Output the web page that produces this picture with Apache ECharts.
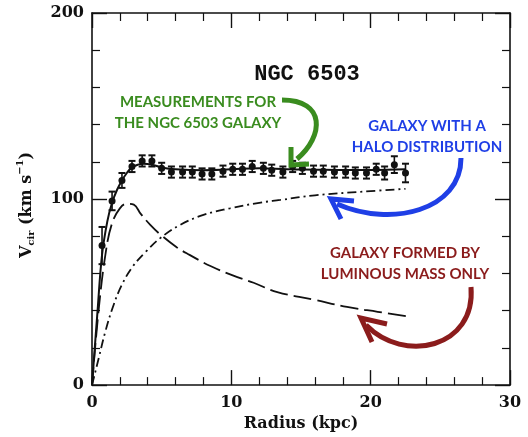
<!DOCTYPE html>
<html>
<head>
<meta charset="utf-8">
<style>
  html, body { margin: 0; padding: 0; background: #fff; }
  #chart { width: 528px; height: 437px; }
</style>
<script src="https://cdn.jsdelivr.net/npm/echarts@6/dist/echarts.min.js"></script>
</head>
<body>
<div id="chart"></div>
<script>
// Measured rotation velocities of NGC 6503 (radius in kpc, velocity in km/s)
const obsRadius = [0.72, 1.44, 2.15, 2.87, 3.6, 4.3, 5.0, 5.7, 6.5, 7.2, 7.9, 8.6, 9.4, 10.1, 10.8, 11.5,
                   12.3, 12.9, 13.7, 14.4, 15.1, 15.9, 16.6, 17.4, 18.2, 18.9, 19.7, 20.4, 21.0, 21.7, 22.5];
const obsVel    = [75, 99, 110, 117.5, 120.5, 120.5, 116.5, 114.5, 114.5, 114.5, 113.5, 113.5, 115, 116, 116, 117.5,
                   116.5, 115.5, 114.5, 117.5, 116.5, 115, 115, 114.5, 114.5, 114, 114, 116, 114, 118.5, 114];
const obsErr    = [10, 5, 4, 3, 3, 3, 3, 3, 3, 3, 3, 3, 3, 3, 3, 3,
                   3, 3, 3, 3, 3, 3, 3, 3, 3, 3, 3, 3, 3.5, 4.5, 5];

// Total model fit (solid)
const fitRadius = [0, 0.4, 0.72, 1.1, 1.44, 1.8, 2.15, 2.5, 2.87, 3.3, 3.7, 4.3, 5.0, 6.0, 8.0, 10.0, 12.0, 14.0, 16.0, 18.0, 20.0, 22.5];
const fitVel    = [0, 40, 70, 88, 98, 105, 110, 114, 117, 118.5, 119, 118.5, 117, 116, 115.5, 116, 116.5, 116, 115.8, 115.6, 115.6, 116];

// Luminous (disk) component (dashed)
const diskRadius = [0, 0.5, 1.0, 1.44, 2.0, 2.5, 3.0, 3.5, 4.2, 4.9, 6.1, 7.0, 8.5, 10.1, 11.6, 13.3, 15.9, 18.3, 20.5, 22.6];
const diskVel    = [0, 42, 72, 87, 95, 97.5, 97, 92, 86, 81, 74, 70, 64, 59, 55, 50, 46, 42, 39.4, 37];

// Dark halo component (dash-dot)
const haloRadius = [0, 0.1, 0.5, 0.93, 1.5, 2.15, 2.95, 3.9, 4.9, 6.3, 8.0, 9.9, 12.0, 13.5, 16.0, 19.5, 22.5];
const haloVel    = [0, 3, 15, 28, 42, 54, 64, 72, 79, 86, 91.5, 95, 98, 99.5, 102, 104, 105.5];

// Axis ticks
const xTicks = [0, 10, 20, 30];
const yTicks = [0, 100, 200];

const pairs = (xs, ys) => xs.map((x, i) => [x, ys[i]]);

const serif = 'DejaVu Serif';
const ink = '#111';

const axisCommon = {
  axisLine: { show: true, onZero: false, lineStyle: { color: ink, width: 1.6 } },
  axisTick: { show: true, inside: true, length: 15, lineStyle: { color: ink, width: 1.4 } },
  minorTick: { show: true, splitNumber: 5, length: 8, lineStyle: { color: ink, width: 1.2 } },
  splitLine: { show: false },
  minorSplitLine: { show: false }
};

const chart = echarts.init(document.getElementById('chart'), null, { renderer: 'canvas' });

// Measure text so the rotated axis title can be built piece by piece
const ctx = document.createElement('canvas').getContext('2d');
function textWidth(str, size, weight) {
  ctx.font = `${weight} ${size}px "${serif}"`;
  return ctx.measureText(str).width;
}
const yTitleParts = [
  { t: 'V', size: 16, dy: 0 },
  { t: 'cir', size: 10, dy: 4 },
  { t: ' (km s', size: 16, dy: 0 },
  { t: '\u22121', size: 10, dy: -7 },
  { t: ')', size: 16, dy: 0 }
];
let cursor = 0;
const yTitleChildren = yTitleParts.map(p => {
  const el = {
    type: 'text',
    x: cursor,
    y: p.dy,
    style: {
      text: p.t,
      font: `bold ${p.size}px "${serif}"`,
      fill: ink,
      textVerticalAlign: 'middle',
      verticalAlign: 'middle'
    }
  };
  cursor += textWidth(p.t, p.size, 'bold');
  return el;
});
const yTitleLen = cursor;

function chevron(apex, a, b, color) {
  return {
    type: 'polyline',
    shape: { points: [a, apex, b] },
    style: { stroke: color, lineWidth: 5, fill: null, lineJoin: 'miter', lineCap: 'butt' },
    z: 20
  };
}
function curve(p, color) {
  return {
    type: 'bezierCurve',
    shape: { x1: p[0], y1: p[1], cpx1: p[2], cpy1: p[3], cpx2: p[4], cpy2: p[5], x2: p[6], y2: p[7] },
    style: { stroke: color, lineWidth: 5, fill: null },
    z: 20
  };
}
function note(lines, cx, cy, color) {
  return lines.map((s, i) => ({
    type: 'text',
    x: cx,
    y: cy + i * 21,
    style: {
      text: s,
      font: 'bold 15px "Lato"',
      fill: color,
      textAlign: 'center',
      align: 'center',
      textVerticalAlign: 'middle',
      verticalAlign: 'middle'
    },
    z: 20
  }));
}

const green = '#3a8c1f';
const blue = '#1f3fe6';
const red = '#8b1c1c';

const option = {
  animation: false,
  backgroundColor: '#fff',
  grid: { left: 92, right: 18, top: 13, bottom: 48 },
  xAxis: [
    Object.assign({}, axisCommon, {
      type: 'value', min: xTicks[0], max: xTicks[xTicks.length - 1], interval: 10, position: 'bottom',
      axisLabel: { show: true, margin: 10, color: ink, fontFamily: serif, fontSize: 16, fontWeight: 'bold' },
      name: 'Radius (kpc)', nameLocation: 'middle', nameGap: 29,
      nameTextStyle: { color: ink, fontFamily: serif, fontSize: 16, fontWeight: 'bold' }
    }),
    Object.assign({}, axisCommon, {
      type: 'value', min: xTicks[0], max: xTicks[xTicks.length - 1], interval: 10, position: 'top',
      axisLabel: { show: false }
    })
  ],
  yAxis: [
    Object.assign({}, axisCommon, {
      type: 'value', min: yTicks[0], max: yTicks[yTicks.length - 1], interval: 100, position: 'left',
      axisLabel: { show: true, margin: 8, color: ink, fontFamily: serif, fontSize: 16, fontWeight: 'bold' }
    }),
    Object.assign({}, axisCommon, {
      type: 'value', min: yTicks[0], max: yTicks[yTicks.length - 1], interval: 100, position: 'right',
      axisLabel: { show: false }
    })
  ],
  title: {
    text: 'NGC 6503',
    left: 302, top: 58, textAlign: 'center',
    textStyle: { fontFamily: 'Liberation Mono', fontSize: 22, fontWeight: 'bold', color: ink }
  },
  series: [
    {
      type: 'line', name: 'halo', data: pairs(haloRadius, haloVel), smooth: 0.4, symbol: 'none',
      lineStyle: { color: ink, width: 1.8, type: [9, 4, 2, 4] }, z: 3
    },
    {
      type: 'line', name: 'disk', data: pairs(diskRadius, diskVel), smooth: 0.4, symbol: 'none',
      lineStyle: { color: ink, width: 1.8, type: [18, 6] }, z: 3
    },
    {
      type: 'line', name: 'total', data: pairs(fitRadius, fitVel), smooth: 0.4, symbol: 'none',
      lineStyle: { color: ink, width: 2 }, z: 4
    },
    {
      type: 'custom', name: 'errors',
      data: obsRadius.map((r, i) => [r, obsVel[i], obsErr[i]]),
      renderItem: function (params, api) {
        const r = api.value(0), v = api.value(1), e = api.value(2);
        const top = api.coord([r, v + e]);
        const bot = api.coord([r, v - e]);
        const hw = 3.5;
        return {
          type: 'group',
          children: [
            { type: 'line', shape: { x1: top[0], y1: top[1], x2: bot[0], y2: bot[1] }, style: { stroke: ink, lineWidth: 1.6 } },
            { type: 'line', shape: { x1: top[0] - hw, y1: top[1], x2: top[0] + hw, y2: top[1] }, style: { stroke: ink, lineWidth: 2 } },
            { type: 'line', shape: { x1: bot[0] - hw, y1: bot[1], x2: bot[0] + hw, y2: bot[1] }, style: { stroke: ink, lineWidth: 2 } }
          ]
        };
      },
      z: 5
    },
    {
      type: 'scatter', name: 'measured', data: pairs(obsRadius, obsVel),
      symbol: 'circle', symbolSize: 7, itemStyle: { color: ink, opacity: 1 }, z: 6
    }
  ],
  graphic: [
    {
      type: 'group', x: 27, y: 205 + yTitleLen / 2, rotation: Math.PI / 2,
      children: yTitleChildren
    },
    ...note(['MEASUREMENTS FOR', 'THE NGC 6503 GALAXY'], 198, 102, green),
    ...note(['GALAXY WITH A', 'HALO DISTRIBUTION'], 427, 126, blue),
    ...note(['GALAXY FORMED BY', 'LUMINOUS MASS ONLY'], 405, 253, red),
    curve([282, 100, 326, 100, 324, 136, 297, 159], green),
    chevron([291, 165], [291, 147], [309, 164], green),
    curve([461, 158, 461, 210, 392, 228, 337, 204], blue),
    chevron([331, 199], [354, 201], [341, 219], blue),
    curve([471, 287, 476, 348, 404, 364, 366, 325], red),
    chevron([361, 318], [387, 324], [372, 342], red)
  ]
};

chart.setOption(option);
</script>
</body>
</html>
